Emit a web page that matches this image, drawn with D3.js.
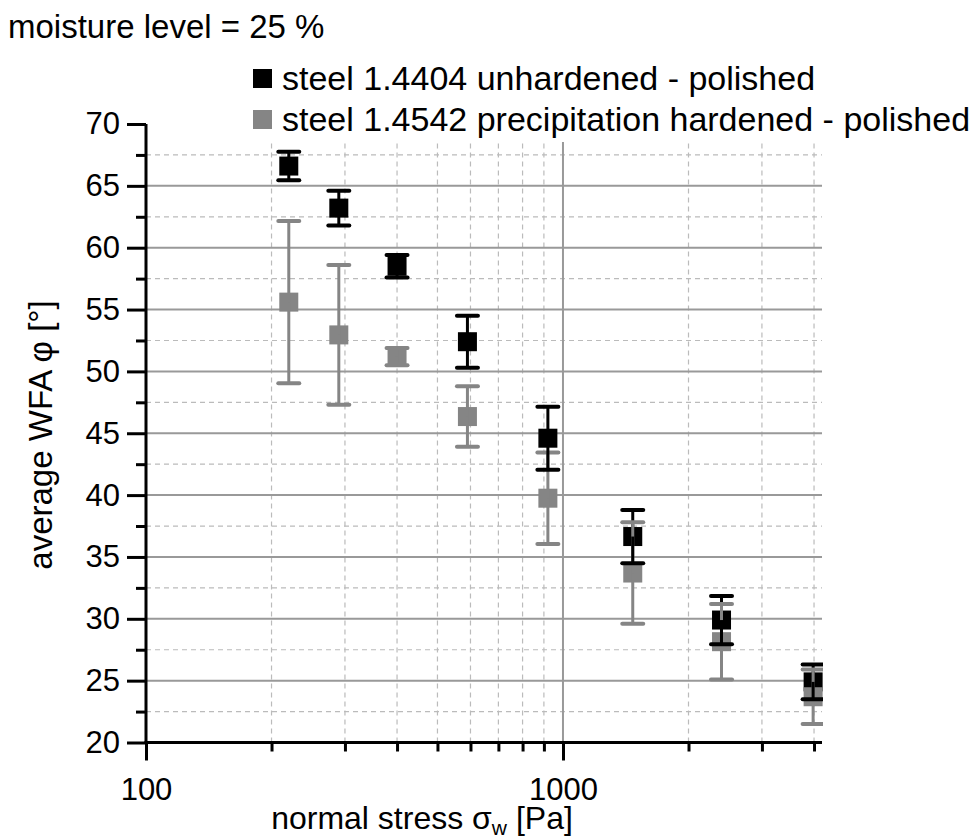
<!DOCTYPE html>
<html>
<head>
<meta charset="utf-8">
<script src="https://cdn.jsdelivr.net/npm/d3@7"></script>
<style>
  body { margin: 0; background: #fff; }
  svg { display: block; font-family: "Liberation Sans", Arial, sans-serif; }
</style>
</head>
<body>
<svg id="chart" width="973" height="839"></svg>
<script>
// moisture level 25 % - WFA vs normal stress
var stress = [220, 290, 400, 590, 920, 1470, 2400, 3980];
var unhardMean = [66.6, 63.2, 58.5, 52.4, 44.6, 36.65, 29.9, 24.9];
var unhardErr = [1.15, 1.4, 0.9, 2.1, 2.55, 2.15, 1.95, 1.4];
var hardMean = [55.6, 52.95, 51.2, 46.35, 39.75, 33.7, 28.15, 23.7];
var hardErr = [6.55, 5.65, 0.7, 2.45, 3.7, 4.1, 3.05, 2.2];

var seriesNames = ['steel 1.4404 unhardened - polished', 'steel 1.4542 precipitation hardened - polished'];
var xMajor = [100, 1000];
var xMinor = [200, 300, 400, 500, 600, 700, 800, 900, 2000, 3000, 4000];
var yMajor = [20, 25, 30, 35, 40, 45, 50, 55, 60, 65, 70];
var yMinor = [22.5, 27.5, 32.5, 37.5, 42.5, 47.5, 52.5, 57.5, 62.5, 67.5];

var svg = d3.select('#chart'),
	pLeft = 146, pRight = 822, pTop = 124, pBottom = 742.5,
	black = '#000', grey = '#858585',
	sq = 19, cap = 21;

var x = d3.scaleLog().domain([100, 4180]).range([pLeft, pRight]);
var y = d3.scaleLinear().domain([20, 70]).range([pBottom, pTop]);

svg.append('defs').append('clipPath').attr('id', 'plot')
	.append('rect').attr('x', pLeft).attr('y', 0).attr('width', pRight - pLeft + 1).attr('height', 839);

// grid
var grid = svg.append('g');
grid.selectAll('line.ymin').data(yMinor).enter().append('line')
	.attr('x1', pLeft).attr('x2', pRight).attr('y1', y).attr('y2', y)
	.attr('stroke', '#bbb').attr('stroke-width', 1.2).attr('stroke-dasharray', '5,4');
grid.selectAll('line.xmin').data(xMinor).enter().append('line')
	.attr('x1', x).attr('x2', x).attr('y1', pBottom).attr('y2', pTop)
	.attr('stroke', '#bbb').attr('stroke-width', 1.2).attr('stroke-dasharray', '5,4');
grid.selectAll('line.ymaj').data(yMajor.slice(1, -1)).enter().append('line')
	.attr('x1', pLeft).attr('x2', pRight).attr('y1', y).attr('y2', y)
	.attr('stroke', '#999').attr('stroke-width', 2);
grid.append('line')
	.attr('x1', x(1000)).attr('x2', x(1000)).attr('y1', pBottom).attr('y2', pTop)
	.attr('stroke', '#999').attr('stroke-width', 2);

// legend box hides the grid top
svg.append('rect').attr('x', 240).attr('y', 50).attr('width', 733).attr('height', 92).attr('fill', '#fff');

// axes
var yAxis = d3.axisLeft(y).tickValues(yMajor).tickSize(19).tickFormat(d3.format('d')).tickPadding(7);
var yAxisMinor = d3.axisLeft(y).tickValues(yMinor).tickSize(10).tickFormat('');
var xAxis = d3.axisBottom(x).tickValues(xMajor).tickSize(18).tickFormat(d3.format('d')).tickPadding(17);
var xAxisMinor = d3.axisBottom(x).tickValues(xMinor).tickSize(9).tickFormat('');

function styleAxis(g) {
	g.select('.domain').remove();
	g.selectAll('.tick line').attr('stroke', '#000').attr('stroke-width', 3);
	g.selectAll('.tick text').attr('fill', '#000').attr('font-size', 31).attr('font-family', 'Liberation Sans, Arial, sans-serif');
}
svg.append('g').attr('transform', 'translate(' + pLeft + ',0)').call(yAxis).call(styleAxis);
svg.append('g').attr('transform', 'translate(' + pLeft + ',0)').call(yAxisMinor).call(styleAxis);
svg.append('g').attr('transform', 'translate(0,' + pBottom + ')').call(xAxis).call(styleAxis);
svg.append('g').attr('transform', 'translate(0,' + pBottom + ')').call(xAxisMinor).call(styleAxis);
svg.append('line').attr('x1', pLeft).attr('x2', pLeft).attr('y1', pTop).attr('y2', pBottom + 1.5)
	.attr('stroke', '#000').attr('stroke-width', 3);
svg.append('line').attr('x1', pLeft - 1.5).attr('x2', pRight).attr('y1', pBottom).attr('y2', pBottom)
	.attr('stroke', '#000').attr('stroke-width', 3);

// data
var pts = stress.map(function (s, i) {
	return { x: s, m1: unhardMean[i], e1: unhardErr[i], m2: hardMean[i], e2: hardErr[i] };
});
var plot = svg.append('g').attr('clip-path', 'url(#plot)');

function squares(key, color) {
	plot.selectAll('rect.' + key).data(pts).enter().append('rect')
		.attr('x', function (d) { return x(d.x) - sq / 2; })
		.attr('y', function (d) { return y(d[key]) - sq / 2; })
		.attr('width', sq).attr('height', sq).attr('fill', color);
}
// half of an error bar, dir = +1 up, -1 down
function halfBar(mk, ek, dir, color) {
	var g = plot.append('g');
	g.selectAll('line.v').data(pts).enter().append('line')
		.attr('x1', function (d) { return x(d.x); }).attr('x2', function (d) { return x(d.x); })
		.attr('y1', function (d) { return y(d[mk]); })
		.attr('y2', function (d) { return y(d[mk] + dir * d[ek]); })
		.attr('stroke', color).attr('stroke-width', 3);
	g.selectAll('line.c').data(pts).enter().append('line')
		.attr('x1', function (d) { return x(d.x) - cap / 2; }).attr('x2', function (d) { return x(d.x) + cap / 2; })
		.attr('y1', function (d) { return y(d[mk] + dir * d[ek]); })
		.attr('y2', function (d) { return y(d[mk] + dir * d[ek]); })
		.attr('stroke', color).attr('stroke-width', 4).attr('stroke-linecap', 'round');
}
squares('m1', black);
squares('m2', grey);
halfBar('m1', 'e1', 1, black);
halfBar('m2', 'e2', -1, grey);
halfBar('m2', 'e2', 1, grey);
halfBar('m1', 'e1', -1, black);

// legend
var legend = svg.append('g');
[black, grey].forEach(function (c, i) {
	legend.append('rect').attr('x', 253).attr('y', 69 + i * 41).attr('width', sq).attr('height', sq).attr('fill', c);
	legend.append('text').attr('x', 282).attr('y', 90 + i * 41).attr('font-size', 34).text(seriesNames[i]);
});

// texts
svg.append('text').attr('x', 8).attr('y', 38).attr('font-size', 33).text('moisture level = 25 %');
var xt = svg.append('text').attr('x', 422).attr('y', 829).attr('font-size', 32).attr('text-anchor', 'middle');
xt.append('tspan').text('normal stress σ');
xt.append('tspan').attr('font-size', 21).attr('dy', 6).text('w');
xt.append('tspan').attr('dy', -6).text(' [Pa]');
svg.append('text').attr('transform', 'translate(52,435) rotate(-90)').attr('font-size', 33)
	.attr('text-anchor', 'middle').text('average WFA φ [°]');
</script>
</body>
</html>
